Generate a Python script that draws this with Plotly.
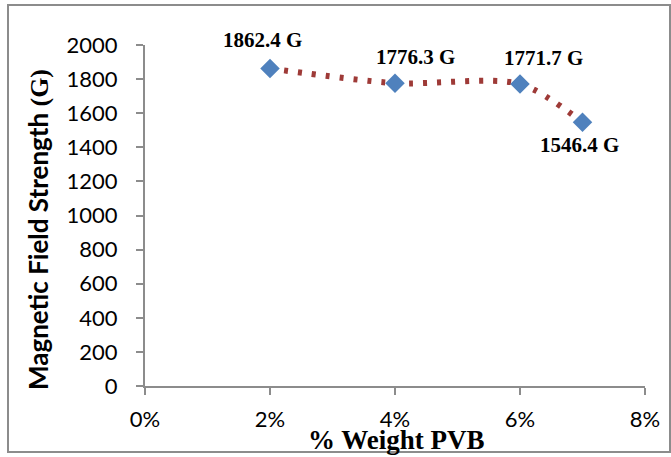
import plotly.graph_objects as go

# Data
pvb_pct = [2, 4, 6, 7]
field_g = [1862.4, 1776.3, 1771.7, 1546.4]
point_labels = [f"{v} G" for v in field_g]
x_ticks = [0, 2, 4, 6, 8]
x_tick_text = ["0%", "2%", "4%", "6%", "8%"]
y_ticks = list(range(0, 2001, 200))

# label offsets (pixels) relative to points
label_shift = [(-8, 28), (20, 26), (23, 26), (-3, -23)]

fig = go.Figure()
fig.add_trace(go.Scatter(
    x=pvb_pct, y=field_g, mode="lines",
    line=dict(shape="spline", smoothing=0.8, color="#9E3A37", width=6, dash="4px,10px"),
    hoverinfo="skip", showlegend=False,
))
fig.add_trace(go.Scatter(
    x=pvb_pct, y=field_g, mode="markers",
    marker=dict(symbol="diamond", size=15, color="#4F81BD", line=dict(width=0)),
    showlegend=False,
))

for xv, yv, txt, (dx, dy) in zip(pvb_pct, field_g, point_labels, label_shift):
    fig.add_annotation(x=xv, y=yv, text=f"<b>{txt}</b>", showarrow=False,
                       xshift=dx, yshift=dy,
                       font=dict(family="Liberation Serif", size=21, color="black"))

L, R, T, B = 145, 26, 45, 71
W, H = 671, 457
pw, ph = W - L - R, H - T - B

# axis titles
fig.add_annotation(xref="paper", yref="paper", x=(396 - L) / pw, y=-(440 - (H - B)) / ph,
                   text="<b>% Weight PVB</b>", showarrow=False, xanchor="center", yanchor="middle",
                   font=dict(family="Liberation Serif", size=27, color="black"))
fig.add_annotation(xref="paper", yref="paper", x=(38 - L) / pw, y=((H - B) - 230) / ph,
                   text="<b>Magnetic Field Strength </b><b><span style='font-family:Liberation Serif'>(G)</span></b>",
                   showarrow=False, textangle=-90, xanchor="center", yanchor="middle",
                   font=dict(family="Lato", size=26, color="black"))

fig.add_shape(type="rect", xref="paper", yref="paper",
              x0=(8 - L) / pw, x1=(670 - L) / pw,
              y0=-(452 - (H - B)) / ph, y1=1 + (T - 5) / ph,
              line=dict(color="#8C8C8C", width=2), fillcolor="rgba(0,0,0,0)")

fig.update_layout(
    width=W, height=H,
    margin=dict(l=L, r=R, t=T, b=B, pad=0),
    paper_bgcolor="white", plot_bgcolor="white",
    font=dict(family="Lato", color="black"),
    xaxis=dict(range=[0, 8], tickvals=x_ticks, ticktext=x_tick_text, automargin=False,
               showgrid=False, zeroline=False, showline=True, linecolor="#8C8C8C", linewidth=2,
               ticks="outside", ticklen=7, tickcolor="#8C8C8C", tickwidth=2,
               tickfont=dict(family="Lato", size=22), ticklabelstandoff=6),
    yaxis=dict(range=[0, 2000], tickvals=y_ticks, automargin=False,
               showgrid=False, zeroline=False, showline=True, linecolor="#8C8C8C", linewidth=2,
               ticks="outside", ticklen=7, tickcolor="#8C8C8C", tickwidth=2,
               tickfont=dict(family="Lato", size=22), ticklabelstandoff=14),
)

fig.write_html("out.html", config={"displayModeBar": False},
               post_script="document.body.style.margin='0';")
